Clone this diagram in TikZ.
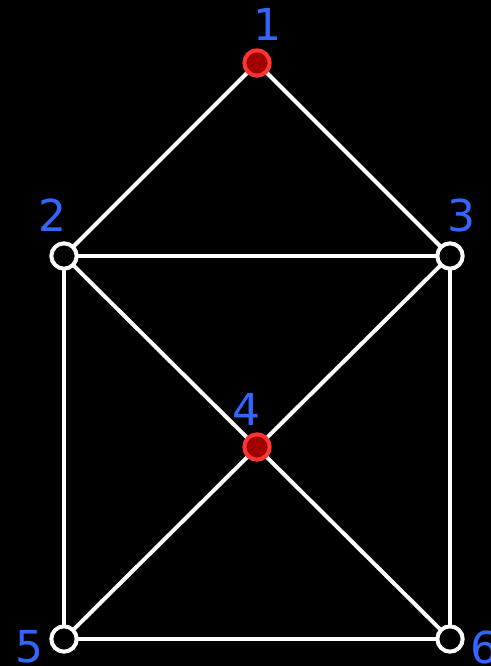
\documentclass[tikz,border=0pt]{standalone}
\usepackage{fontspec}
\setmainfont{DejaVu Sans}
\definecolor{lblblue}{HTML}{3366FF}
\definecolor{ringred}{HTML}{FF3333}
\definecolor{fillred}{HTML}{A00000}
\begin{document}
\begin{tikzpicture}[x=0.75pt,y=-0.75pt,
  edge/.style={draw=white,line width=3pt},
  wnode/.style={circle,draw=white,fill=black,line width=3pt,minimum size=19pt,inner sep=0pt},
  rnode/.style={circle,draw=ringred,fill=fillred,line width=3pt,minimum size=19pt,inner sep=0pt},
  lbl/.style={text=lblblue,font=\fontsize{33}{36}\selectfont,inner sep=0pt}]
\fill[black] (0,0) rectangle (491,666);
\useasboundingbox (0,0) rectangle (491,666);
\coordinate (p1) at (257,63);
\coordinate (p2) at (64,256);
\coordinate (p3) at (450,256);
\coordinate (p4) at (257,447);
\coordinate (p5) at (64,639);
\coordinate (p6) at (450,639);
\draw[edge] (p1) -- (p2);
\draw[edge] (p1) -- (p3);
\draw[edge] (p2) -- (p3);
\draw[edge] (p2) -- (p5);
\draw[edge] (p3) -- (p6);
\draw[edge] (p5) -- (p6);
\draw[edge] (p2) -- (p6);
\draw[edge] (p3) -- (p5);
\node[rnode] (n1) at (p1) {};
\node[wnode] (n2) at (p2) {};
\node[wnode] (n3) at (p3) {};
\node[rnode] (n4) at (p4) {};
\node[wnode] (n5) at (p5) {};
\node[wnode] (n6) at (p6) {};
\node[lbl] (l1) at (267,24) {1};
\node[lbl] (l2) at (52,215) {2};
\node[lbl] (l3) at (461,215) {3};
\node[lbl] (l4) at (246,409) {4};
\node[lbl] (l5) at (29,647) {5};
\node[lbl] (l6) at (484,647) {6};
\end{tikzpicture}
\end{document}
